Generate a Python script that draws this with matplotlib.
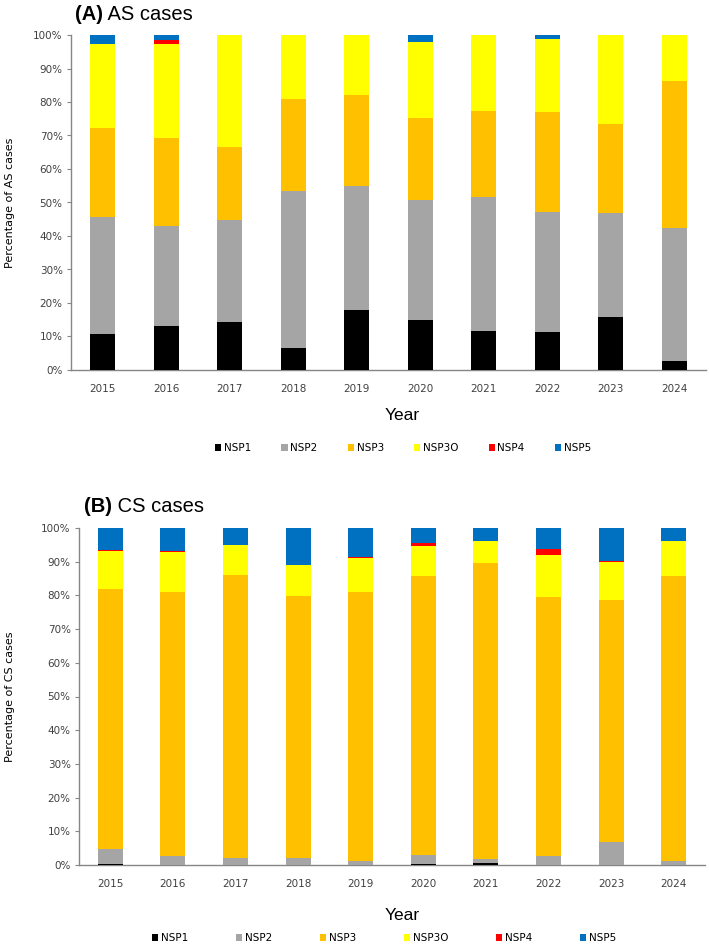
import matplotlib
matplotlib.use("Agg")
import matplotlib.pyplot as plt
from matplotlib.patches import Patch
import numpy as np

years = ["2015", "2016", "2017", "2018", "2019", "2020", "2021", "2022", "2023", "2024"]
series = ["NSP1", "NSP2", "NSP3", "NSP3O", "NSP4", "NSP5"]
colors = ["#000000", "#A5A5A5", "#FFC000", "#FFFF00", "#FF0000", "#0070C0"]

# Panel A: AS cases (% of cases)
as_nsp1 = [10.6, 13.1, 14.2, 6.7, 17.9, 15.0, 11.7, 11.3, 15.7, 2.7]
as_nsp2 = [35.0, 29.8, 30.6, 46.7, 36.9, 35.6, 39.9, 35.8, 31.2, 39.8]
as_nsp3 = [26.6, 26.3, 21.9, 27.6, 27.3, 24.7, 25.7, 29.9, 26.4, 43.9]
as_nsp3o = [25.1, 28.1, 33.3, 19.0, 17.9, 22.5, 22.7, 21.8, 26.7, 13.6]
as_nsp4 = [0.0, 1.1, 0.0, 0.0, 0.0, 0.0, 0.0, 0.0, 0.0, 0.0]
as_nsp5 = [2.7, 1.6, 0.0, 0.0, 0.0, 2.2, 0.0, 1.2, 0.0, 0.0]

# Panel B: CS cases (% of cases)
cs_nsp1 = [0.4, 0.0, 0.0, 0.0, 0.0, 0.2, 0.5, 0.0, 0.0, 0.0]
cs_nsp2 = [4.3, 2.7, 2.0, 2.2, 1.3, 2.9, 1.2, 2.7, 6.8, 1.3]
cs_nsp3 = [77.3, 78.2, 84.0, 77.6, 79.8, 82.8, 88.0, 76.8, 71.9, 84.6]
cs_nsp3o = [11.2, 11.9, 8.9, 9.1, 10.1, 8.7, 6.5, 12.4, 11.3, 10.2]
cs_nsp4 = [0.3, 0.3, 0.0, 0.0, 0.3, 1.0, 0.0, 1.9, 0.3, 0.0]
cs_nsp5 = [6.5, 6.9, 5.1, 11.1, 8.5, 4.4, 3.8, 6.2, 9.7, 3.9]

W, H = 709, 947
fig = plt.figure(figsize=(W / 100, H / 100), dpi=100)

narrow = ["Liberation Sans Narrow", "Liberation Sans", "DejaVu Sans"]
tickfont = ["DejaVu Sans"]
spine_col = "#868686"
text_col = "#404040"


def px_axes(left, right, top, bottom):
    return fig.add_axes([left / W, 1 - bottom / H, (right - left) / W, (bottom - top) / H])


def draw_panel(ax, data, ylabel):
    x = np.arange(len(years))
    bottom = np.zeros(len(years))
    for vals, col in zip(data, colors):
        v = np.array(vals)
        ax.bar(x, v, width=0.4, bottom=bottom, color=col, edgecolor="none", zorder=3)
        bottom += v
    ax.set_xlim(-0.5, len(years) - 0.5)
    ax.set_ylim(0, 100)
    ax.set_yticks(np.arange(0, 101, 10))
    ax.set_yticklabels([f"{t}%" for t in range(0, 101, 10)], fontsize=7.5,
                       color=text_col, family=tickfont)
    ax.set_xticks(x)
    ax.set_xticklabels(years, fontsize=7.5, color=text_col, family=tickfont)
    ax.tick_params(axis="x", length=0, pad=10)
    ax.tick_params(axis="y", length=3, width=0.8, color=spine_col, pad=3)
    for s in ["top", "right"]:
        ax.spines[s].set_visible(False)
    for s in ["left", "bottom"]:
        ax.spines[s].set_color(spine_col)
        ax.spines[s].set_linewidth(1.0)
    ax.set_ylabel(ylabel, fontsize=8, color="#000000", family=tickfont)


axA = px_axes(71, 706, 35, 370)
draw_panel(axA, [as_nsp1, as_nsp2, as_nsp3, as_nsp3o, as_nsp4, as_nsp5], "Percentage of AS cases")
axA.yaxis.set_label_coords((15 - 71) / 635, 0.5)

axB = px_axes(79, 705, 528, 865)
draw_panel(axB, [cs_nsp1, cs_nsp2, cs_nsp3, cs_nsp3o, cs_nsp4, cs_nsp5], "Percentage of CS cases")
axB.yaxis.set_label_coords((15 - 79) / 626, 0.5)

# Titles: bold panel letter followed by regular text
tA = fig.text(75 / W, 1 - 14 / H, "(A)", fontsize=14.5, fontweight="bold", family=narrow,
              va="center", ha="left")
fig.add_artist(plt.Annotation(" AS cases", xy=(1, 0), xycoords=tA, va="bottom", ha="left",
                              fontsize=14.5, family=narrow))
tB = fig.text(84 / W, 1 - 506 / H, "(B)", fontsize=14.5, fontweight="bold", family=narrow,
              va="center", ha="left")
fig.add_artist(plt.Annotation(" CS cases", xy=(1, 0), xycoords=tB, va="bottom", ha="left",
                              fontsize=14.5, family=narrow))

# Year labels
fig.text(402 / W, 1 - 415 / H, "Year", fontsize=12.5, family=narrow, ha="center", va="center")
fig.text(402 / W, 1 - 915 / H, "Year", fontsize=12.5, family=narrow, ha="center", va="center")

# Legends
handles = [Patch(facecolor=c, edgecolor="none", label=s) for s, c in zip(series, colors)]
fig.legend(handles=handles, loc="center", bbox_to_anchor=(403 / W, 1 - 448 / H), ncol=6,
           frameon=False, handlelength=0.6, handleheight=0.6, handletextpad=0.25,
           columnspacing=2.9, prop={"family": tickfont, "size": 7.5})
fig.legend(handles=handles, loc="center", bbox_to_anchor=(384 / W, 1 - 938 / H), ncol=6,
           frameon=False, handlelength=0.6, handleheight=0.6, handletextpad=0.25,
           columnspacing=4.6, prop={"family": tickfont, "size": 7.5})

fig.savefig("out.png", dpi=100)
